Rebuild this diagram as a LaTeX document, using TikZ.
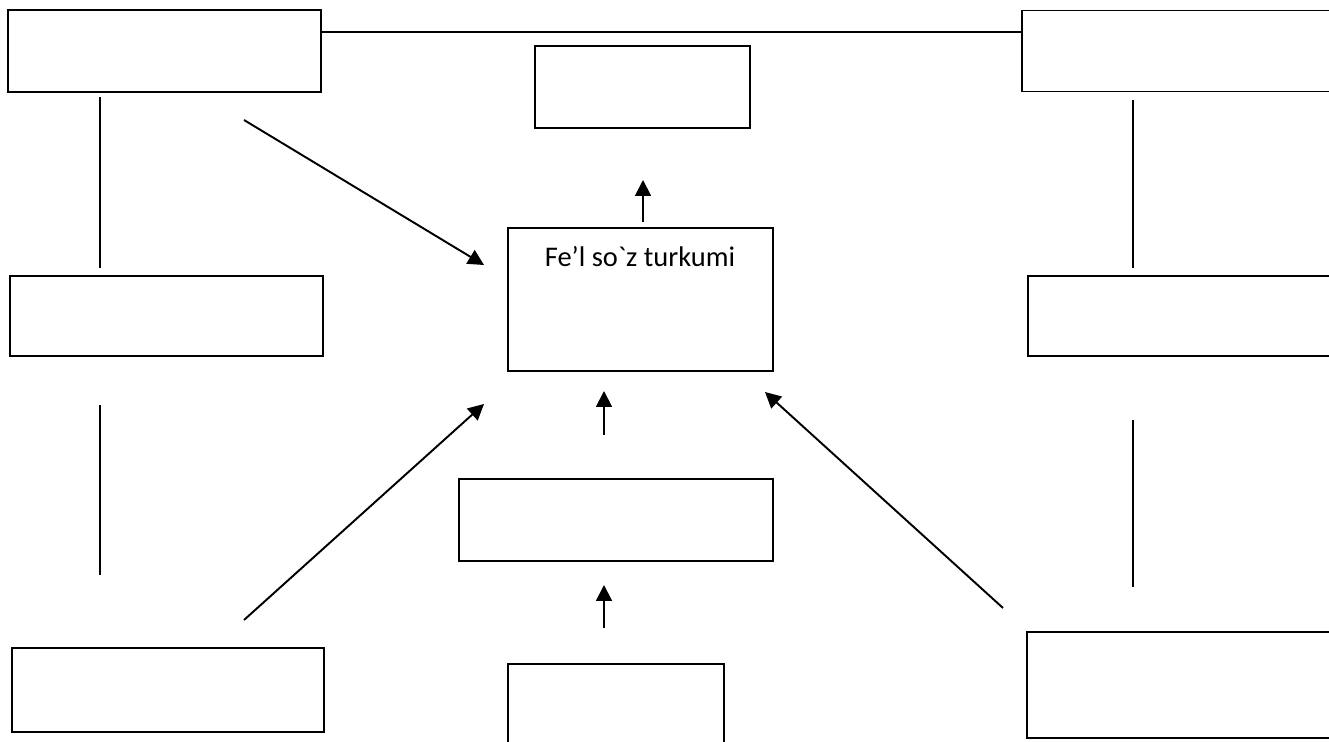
\documentclass[tikz,border=0pt]{standalone}
\usepackage{fontspec}
\setmainfont{Carlito}[Ligatures=TeXOff]
\usetikzlibrary{arrows.meta}
\tikzset{
  box/.style={draw, line width=1.1pt, inner sep=0pt},
  link/.style={line width=1.1pt},
  arr/.style={line width=1.1pt, -{Triangle[length=9pt,width=9pt]}}
}

\begin{document}
\begin{tikzpicture}[x=0.02cm,y=-0.02cm]
  \useasboundingbox (0,0) rectangle (1329,742);
  % boxes
  \node [box, minimum width=6.26cm, minimum height=1.64cm] (tl) at (164.5,51) {};
  \node [box, minimum width=6.26cm, minimum height=1.62cm] (tr) at (1178.5,51) {};
  \node [box, minimum width=4.30cm, minimum height=1.64cm] (top) at (642.5,87) {};
  \node [box, minimum width=5.30cm, minimum height=2.86cm] (fel) at (640.5,299.5) {};
  \node [font=\fontsize{16.2}{19}\selectfont] (felname) at (640,257) {Fe’l so`z turkumi};
  \node [box, minimum width=6.26cm, minimum height=1.60cm] (ml) at (166.5,316) {};
  \node [box, minimum width=6.26cm, minimum height=1.60cm] (mr) at (1184.5,316) {};
  \node [box, minimum width=6.28cm, minimum height=1.64cm] (low) at (616,520) {};
  \node [box, minimum width=4.32cm, minimum height=1.72cm] (bc) at (616,707) {};
  \node [box, minimum width=6.24cm, minimum height=1.68cm] (bl) at (168,690) {};
  \node [box, minimum width=6.26cm, minimum height=2.12cm] (br) at (1183.5,685) {};
  % plain lines
  \coordinate (h1) at (321,32);
  \coordinate (h2) at (1022,32);
  \draw [link] (h1) -- (h2);
  \coordinate (l1) at (100,97);
  \coordinate (l2) at (100,268);
  \draw [link] (l1) -- (l2);
  \coordinate (l3) at (100,405);
  \coordinate (l4) at (100,575);
  \draw [link] (l3) -- (l4);
  \coordinate (r1) at (1133,100);
  \coordinate (r2) at (1133,268);
  \draw [link] (r1) -- (r2);
  \coordinate (r3) at (1133,420);
  \coordinate (r4) at (1133,587);
  \draw [link] (r3) -- (r4);
  % arrows
  \coordinate (a1) at (244,120);
  \coordinate (b1) at (484,265);
  \draw [arr] (a1) -- (b1);
  \coordinate (a2) at (643,222);
  \coordinate (b2) at (643,180);
  \draw [arr] (a2) -- (b2);
  \coordinate (a3) at (604,435);
  \coordinate (b3) at (604,391);
  \draw [arr] (a3) -- (b3);
  \coordinate (a4) at (604,628);
  \coordinate (b4) at (604,585);
  \draw [arr] (a4) -- (b4);
  \coordinate (a5) at (244,620);
  \coordinate (b5) at (484,404);
  \draw [arr] (a5) -- (b5);
  \coordinate (a6) at (1003,608);
  \coordinate (b6) at (765,392);
  \draw [arr] (a6) -- (b6);
\end{tikzpicture}
\end{document}
